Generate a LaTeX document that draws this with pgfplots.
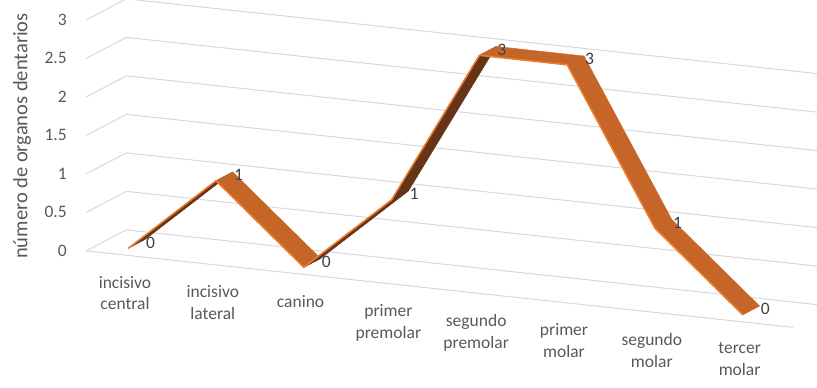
\documentclass[border=0pt]{standalone}
\usepackage{pgfplots}
\pgfplotsset{compat=1.18}
\usepackage{fontspec}
\setmainfont{Carlito}
\definecolor{gridc}{RGB}{217,217,217}
\definecolor{txt}{RGB}{89,89,89}
\definecolor{lbl}{RGB}{64,64,64}
\definecolor{rib}{RGB}{197,102,40}
\definecolor{ribdark}{RGB}{102,52,22}
\definecolor{ribedge}{RGB}{237,125,49}
\begin{document}
\begin{tikzpicture}[font=\fontsize{17.5}{21.5}\selectfont]
\useasboundingbox (0,0) rectangle (817pt,388pt);
\begin{axis}[
  at={(117pt,133.8pt)}, anchor=origin,
  x={(87.8pt,-9.5pt)}, y={(40pt,21pt)}, z={(0pt,77pt)},
  xmin=-0.35, xmax=7.7, ymin=0, ymax=1, zmin=0, zmax=3,
  xtick={0,...,7},
  xticklabels={{incisivo\\central},{incisivo\\lateral},{canino},{primer\\premolar},{segundo\\premolar},{primer\\molar},{segundo\\molar},{tercer\\molar}},
  xticklabel style={align=center, anchor=north, text=txt, inner sep=0pt, xshift=8pt, yshift=-22pt},
  ytick=\empty,
  ztick={0,0.5,...,3},
  zticklabel style={text=txt, anchor=east, xshift=-16pt},
  zmajorgrids=true,
  major grid style={draw=gridc, line width=1pt},
  axis line style={draw=none},
  major tick length=0pt,
  clip=false,
  /pgf/number format/assume math mode=true,
  colormap={ribbon}{color=(rib) color=(ribdark)},
  point meta min=0, point meta max=1,
]
\addplot3[draw=gridc, line width=1pt] coordinates {(-0.35,0,0) (7.7,0,0)};
\addplot3[surf, shader=flat corner, draw=none, mesh/cols=8, point meta=explicit] table[meta=c] {
x y z c
0 0.28 0 1
1 0.28 1 0
2 0.28 0 1
3 0.28 1 1
4 0.28 3 0
5 0.28 3 0
6 0.28 1 0
7 0.28 0 0
0 0.70 0 1
1 0.70 1 0
2 0.70 0 1
3 0.70 1 1
4 0.70 3 0
5 0.70 3 0
6 0.70 1 0
7 0.70 0 0
};
\addplot3[ribedge, line width=1.5pt, mark=none] coordinates {(0,0.28,0) (1,0.28,1) (2,0.28,0) (3,0.28,1) (4,0.28,3) (5,0.28,3) (6,0.28,1) (7,0.28,0)};
\addplot3[draw=none, mark=none, point meta=z, nodes near coords,
  every node near coord/.append style={anchor=west, text=lbl, xshift=0pt, yshift=-3pt, inner sep=1pt}]
  coordinates {(0,0.70,0) (1,0.70,1) (2,0.70,0) (3,0.70,1) (4,0.70,3) (5,0.70,3) (6,0.70,1) (7,0.70,0)};
\end{axis}
\node[rotate=90, text=txt, font=\fontsize{20.5}{24}\selectfont] at (22pt,252pt) {número de organos dentarios};
\end{tikzpicture}
\end{document}
